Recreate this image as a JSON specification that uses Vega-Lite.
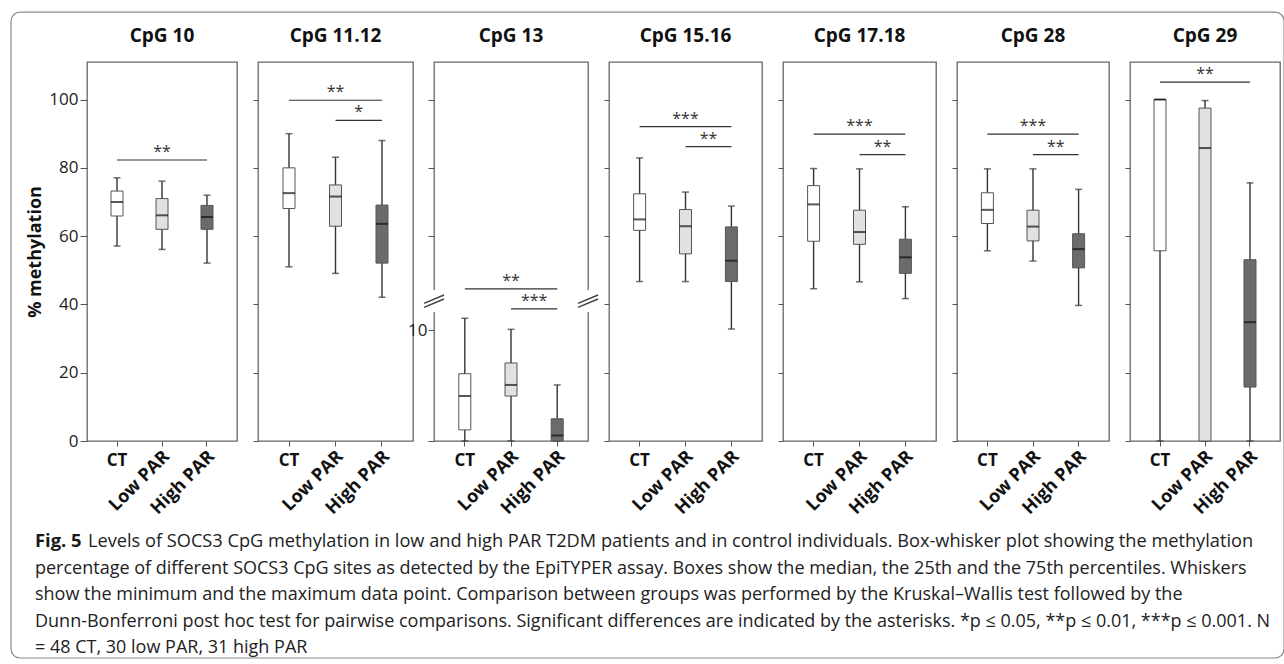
{
  "$schema": "https://vega.github.io/schema/vega-lite/v6.json",
  "padding": {"left": 10, "top": 11, "right": 0, "bottom": 0},
  "config": {
    "font": "Open Sans",
    "view": {"stroke": "#666666", "strokeWidth": 1.3},
    "axis": {"grid": false, "labelFont": "Open Sans", "titleFont": "Open Sans"},
    "title": {"font": "Open Sans", "fontSize": 19, "fontWeight": "bold", "color": "#111111", "offset": 16},
    "text": {"font": "Open Sans"}
  },
  "datasets": {
    "boxes": [
      {"panel": "CpG 10", "group": "CT", "min": 57.1, "q1": 65.9, "median": 70.0, "q3": 73.2, "max": 77.1},
      {"panel": "CpG 10", "group": "Low PAR", "min": 56.1, "q1": 62.0, "median": 66.1, "q3": 71.0, "max": 76.1},
      {"panel": "CpG 10", "group": "High PAR", "min": 52.1, "q1": 62.0, "median": 65.6, "q3": 69.0, "max": 72.0},
      {"panel": "CpG 11.12", "group": "CT", "min": 51.0, "q1": 68.1, "median": 72.6, "q3": 80.0, "max": 90.0},
      {"panel": "CpG 11.12", "group": "Low PAR", "min": 49.1, "q1": 62.9, "median": 71.6, "q3": 75.0, "max": 83.1},
      {"panel": "CpG 11.12", "group": "High PAR", "min": 42.1, "q1": 52.1, "median": 63.6, "q3": 69.1, "max": 88.0},
      {"panel": "CpG 13", "group": "CT", "min": 0, "q1": 1.0, "median": 4.05, "q3": 6.06, "max": 11.05},
      {"panel": "CpG 13", "group": "Low PAR", "min": 0, "q1": 4.05, "median": 5.05, "q3": 7.03, "max": 10.06},
      {"panel": "CpG 13", "group": "High PAR", "min": 0, "q1": 0, "median": 0.5, "q3": 2.0, "max": 5.05},
      {"panel": "CpG 15.16", "group": "CT", "min": 46.7, "q1": 61.7, "median": 64.9, "q3": 72.4, "max": 82.9},
      {"panel": "CpG 15.16", "group": "Low PAR", "min": 46.7, "q1": 54.8, "median": 62.9, "q3": 67.8, "max": 72.9},
      {"panel": "CpG 15.16", "group": "High PAR", "min": 32.8, "q1": 46.7, "median": 52.8, "q3": 62.7, "max": 68.8},
      {"panel": "CpG 17.18", "group": "CT", "min": 44.6, "q1": 58.5, "median": 69.3, "q3": 74.8, "max": 79.8},
      {"panel": "CpG 17.18", "group": "Low PAR", "min": 46.6, "q1": 57.6, "median": 61.2, "q3": 67.6, "max": 79.7},
      {"panel": "CpG 17.18", "group": "High PAR", "min": 41.7, "q1": 49.1, "median": 53.8, "q3": 59.1, "max": 68.6},
      {"panel": "CpG 28", "group": "CT", "min": 55.7, "q1": 63.7, "median": 67.7, "q3": 72.7, "max": 79.7},
      {"panel": "CpG 28", "group": "Low PAR", "min": 52.7, "q1": 58.6, "median": 62.8, "q3": 67.6, "max": 79.7},
      {"panel": "CpG 28", "group": "High PAR", "min": 39.7, "q1": 50.7, "median": 56.2, "q3": 60.7, "max": 73.7},
      {"panel": "CpG 29", "group": "CT", "min": 0, "q1": 55.7, "median": 100, "q3": 100, "max": 100},
      {"panel": "CpG 29", "group": "Low PAR", "min": 0, "q1": 0, "median": 85.8, "q3": 97.5, "max": 99.7},
      {"panel": "CpG 29", "group": "High PAR", "min": 0, "q1": 15.8, "median": 34.8, "q3": 53.1, "max": 75.6}
    ],
    "sig": [
      {"panel": "CpG 10", "from": "CT", "to": "High PAR", "y": 82.3, "stars": "**"},
      {"panel": "CpG 11.12", "from": "CT", "to": "High PAR", "y": 99.8, "stars": "**"},
      {"panel": "CpG 11.12", "from": "Low PAR", "to": "High PAR", "y": 93.9, "stars": "*"},
      {"panel": "CpG 13", "from": "CT", "to": "High PAR", "y": 13.7, "stars": "**"},
      {"panel": "CpG 13", "from": "Low PAR", "to": "High PAR", "y": 11.9, "stars": "***"},
      {"panel": "CpG 15.16", "from": "CT", "to": "High PAR", "y": 92.1, "stars": "***"},
      {"panel": "CpG 15.16", "from": "Low PAR", "to": "High PAR", "y": 86.2, "stars": "**"},
      {"panel": "CpG 17.18", "from": "CT", "to": "High PAR", "y": 89.9, "stars": "***"},
      {"panel": "CpG 17.18", "from": "Low PAR", "to": "High PAR", "y": 83.9, "stars": "**"},
      {"panel": "CpG 28", "from": "CT", "to": "High PAR", "y": 89.9, "stars": "***"},
      {"panel": "CpG 28", "from": "Low PAR", "to": "High PAR", "y": 83.9, "stars": "**"},
      {"panel": "CpG 29", "from": "CT", "to": "High PAR", "y": 105.1, "stars": "**"}
    ],
    "edges": [{"edge": "left"}, {"edge": "right"}],
    "caption": [
      {"line": 1, "part": "label", "text": "Fig. 5"},
      {"line": 1, "part": "lead", "text": "Levels of SOCS3 CpG methylation in low and high PAR T2DM patients and in control individuals. Box-whisker plot showing the methylation"},
      {"line": 2, "part": "body", "text": "percentage of different SOCS3 CpG sites as detected by the EpiTYPER assay. Boxes show the median, the 25th and the 75th percentiles. Whiskers"},
      {"line": 3, "part": "body", "text": "show the minimum and the maximum data point. Comparison between groups was performed by the Kruskal–Wallis test followed by the"},
      {"line": 4, "part": "body", "text": "Dunn-Bonferroni post hoc test for pairwise comparisons. Significant differences are indicated by the asterisks. *p ≤ 0.05, **p ≤ 0.01, ***p ≤ 0.001. N"},
      {"line": 5, "part": "body", "text": "= 48 CT, 30 low PAR, 31 high PAR"}
    ]
  },
  "spacing": 461,
  "bounds": "flush",
  "vconcat": [
    {
      "spacing": 21,
      "bounds": "flush",
      "hconcat": [
        {
          "width": 150, "height": 379,
          "title": {"text": "CpG 10"},
          "layer": [
            {
              "data": {"name": "boxes"},
              "transform": [{"filter": "datum.panel === 'CpG 10'"}],
              "encoding": {
                "x": {"field": "group", "type": "nominal", "scale": {"domain": ["CT", "Low PAR", "High PAR"], "paddingInner": 0, "paddingOuter": 0.1667},
                  "axis": {"title": null, "domain": false, "labels": false, "tickSize": 5, "tickColor": "#555555"}},
                "y": {"field": "min", "type": "quantitative", "scale": {"domain": [0, 111], "nice": false, "zero": false},
                  "axis": {"title": "% methylation", "titleFontSize": 18, "titleFontWeight": "bold", "titleColor": "#111111", "titlePadding": 4, "domain": false, "tickSize": 7, "tickColor": "#555555", "values": [0, 20, 40, 60, 80, 100], "labelFontSize": 17, "labelColor": "#222222", "labelPadding": 2}}
              },
              "layer": [
                {"mark": {"type": "rule", "color": "#333333", "strokeWidth": 1.4}, "encoding": {"y2": {"field": "max"}}},
                {"mark": {"type": "tick", "size": 7, "thickness": 1.5, "color": "#333333"}},
                {"mark": {"type": "tick", "size": 7, "thickness": 1.5, "color": "#333333"}, "encoding": {"y": {"field": "max", "type": "quantitative"}}},
                {"mark": {"type": "bar", "width": 12, "stroke": "#555555", "strokeWidth": 1, "opacity": 1}, "encoding": {"y": {"field": "q1", "type": "quantitative"}, "y2": {"field": "q3"}, "color": {"field": "group", "type": "nominal", "scale": {"domain": ["CT", "Low PAR", "High PAR"], "range": ["#ffffff", "#e1e1e1", "#6b6b6b"]}, "legend": null}}},
                {"mark": {"type": "tick", "size": 12, "thickness": 2, "color": "#111111"}, "encoding": {"y": {"field": "median", "type": "quantitative"}}},
                {"transform": [{"filter": "datum.group === 'CT'"}], "mark": {"type": "text", "fontWeight": "bold", "fontSize": 17, "color": "#111111", "baseline": "top", "dy": 12}, "encoding": {"y": {"datum": 0}, "text": {"field": "group"}}},
                {"transform": [{"filter": "datum.group !== 'CT'"}], "mark": {"type": "text", "fontWeight": "bold", "fontSize": 18, "color": "#111111", "angle": 315, "align": "right", "baseline": "middle", "dx": -5.7, "dy": 12.7}, "encoding": {"y": {"datum": 0}, "text": {"field": "group"}}}
              ]
            },
            {
              "data": {"name": "sig"},
              "transform": [{"filter": "datum.panel === 'CpG 10'"}],
              "encoding": {"y": {"field": "y", "type": "quantitative"}},
              "layer": [
                {"mark": {"type": "rule", "color": "#333333", "strokeWidth": 1.2}, "encoding": {"x": {"field": "from", "type": "nominal"}, "x2": {"field": "to"}}},
                {"transform": [{"filter": "datum.from === 'CT'"}], "mark": {"type": "text", "fontSize": 16, "color": "#333333", "baseline": "alphabetic", "dy": -3}, "encoding": {"x": {"datum": "Low PAR", "type": "nominal"}, "text": {"field": "stars"}}},
                {"transform": [{"filter": "datum.from === 'Low PAR'"}], "mark": {"type": "text", "fontSize": 16, "color": "#333333", "baseline": "alphabetic", "dy": -3}, "encoding": {"x": {"datum": "High PAR", "type": "nominal", "bandPosition": 0}, "text": {"field": "stars"}}}
              ]
            }
          ]
        },
        {
          "width": 155, "height": 379,
          "title": {"text": "CpG 11.12"},
          "layer": [
            {
              "data": {"name": "boxes"},
              "transform": [{"filter": "datum.panel === 'CpG 11.12'"}],
              "encoding": {
                "x": {"field": "group", "type": "nominal", "scale": {"domain": ["CT", "Low PAR", "High PAR"], "paddingInner": 0, "paddingOuter": 0.1667},
                  "axis": {"title": null, "domain": false, "labels": false, "tickSize": 5, "tickColor": "#555555"}},
                "y": {"field": "min", "type": "quantitative", "scale": {"domain": [0, 111], "nice": false, "zero": false},
                  "axis": {"title": null, "labels": false, "domain": false, "tickSize": 5, "tickColor": "#555555", "values": [0, 20, 40, 60, 80, 100]}}
              },
              "layer": [
                {"mark": {"type": "rule", "color": "#333333", "strokeWidth": 1.4}, "encoding": {"y2": {"field": "max"}}},
                {"mark": {"type": "tick", "size": 7, "thickness": 1.5, "color": "#333333"}},
                {"mark": {"type": "tick", "size": 7, "thickness": 1.5, "color": "#333333"}, "encoding": {"y": {"field": "max", "type": "quantitative"}}},
                {"mark": {"type": "bar", "width": 12, "stroke": "#555555", "strokeWidth": 1, "opacity": 1}, "encoding": {"y": {"field": "q1", "type": "quantitative"}, "y2": {"field": "q3"}, "color": {"field": "group", "type": "nominal", "scale": {"domain": ["CT", "Low PAR", "High PAR"], "range": ["#ffffff", "#e1e1e1", "#6b6b6b"]}, "legend": null}}},
                {"mark": {"type": "tick", "size": 12, "thickness": 2, "color": "#111111"}, "encoding": {"y": {"field": "median", "type": "quantitative"}}},
                {"transform": [{"filter": "datum.group === 'CT'"}], "mark": {"type": "text", "fontWeight": "bold", "fontSize": 17, "color": "#111111", "baseline": "top", "dy": 12}, "encoding": {"y": {"datum": 0}, "text": {"field": "group"}}},
                {"transform": [{"filter": "datum.group !== 'CT'"}], "mark": {"type": "text", "fontWeight": "bold", "fontSize": 18, "color": "#111111", "angle": 315, "align": "right", "baseline": "middle", "dx": -5.7, "dy": 12.7}, "encoding": {"y": {"datum": 0}, "text": {"field": "group"}}}
              ]
            },
            {
              "data": {"name": "sig"},
              "transform": [{"filter": "datum.panel === 'CpG 11.12'"}],
              "encoding": {"y": {"field": "y", "type": "quantitative"}},
              "layer": [
                {"mark": {"type": "rule", "color": "#333333", "strokeWidth": 1.2}, "encoding": {"x": {"field": "from", "type": "nominal"}, "x2": {"field": "to"}}},
                {"transform": [{"filter": "datum.from === 'CT'"}], "mark": {"type": "text", "fontSize": 16, "color": "#333333", "baseline": "alphabetic", "dy": -3}, "encoding": {"x": {"datum": "Low PAR", "type": "nominal"}, "text": {"field": "stars"}}},
                {"transform": [{"filter": "datum.from === 'Low PAR'"}], "mark": {"type": "text", "fontSize": 16, "color": "#333333", "baseline": "alphabetic", "dy": -3}, "encoding": {"x": {"datum": "High PAR", "type": "nominal", "bandPosition": 0}, "text": {"field": "stars"}}}
              ]
            }
          ]
        },
        {
          "width": 154, "height": 379,
          "title": {"text": "CpG 13"},
          "resolve": {"scale": {"x": "independent"}, "axis": {"x": "independent"}},
          "layer": [
            {
              "layer": [
                {
                  "data": {"name": "boxes"},
                  "transform": [{"filter": "datum.panel === 'CpG 13'"}],
                  "encoding": {
                    "x": {"field": "group", "type": "nominal", "scale": {"domain": ["CT", "Low PAR", "High PAR"], "paddingInner": 0, "paddingOuter": 0.1667},
                      "axis": {"title": null, "domain": false, "labels": false, "tickSize": 5, "tickColor": "#555555"}},
                    "y": {"field": "min", "type": "quantitative", "scale": {"domain": [0, 15, 60, 111], "range": [379, 212.5, 174, 0], "nice": false, "zero": false},
                      "axis": {"title": null, "domain": false, "tickSize": 6, "tickColor": "#555555", "values": [0, 10, 60, 80, 100], "labelExpr": "datum.value === 10 ? '10' : ''", "labelFontSize": 17, "labelColor": "#222222", "labelPadding": 1}}
                  },
                  "layer": [
                    {"mark": {"type": "rule", "color": "#333333", "strokeWidth": 1.4}, "encoding": {"y2": {"field": "max"}}},
                    {"mark": {"type": "tick", "size": 7, "thickness": 1.5, "color": "#333333"}},
                    {"mark": {"type": "tick", "size": 7, "thickness": 1.5, "color": "#333333"}, "encoding": {"y": {"field": "max", "type": "quantitative"}}},
                    {"mark": {"type": "bar", "width": 12, "stroke": "#555555", "strokeWidth": 1, "opacity": 1}, "encoding": {"y": {"field": "q1", "type": "quantitative"}, "y2": {"field": "q3"}, "color": {"field": "group", "type": "nominal", "scale": {"domain": ["CT", "Low PAR", "High PAR"], "range": ["#ffffff", "#e1e1e1", "#6b6b6b"]}, "legend": null}}},
                    {"mark": {"type": "tick", "size": 12, "thickness": 2, "color": "#111111"}, "encoding": {"y": {"field": "median", "type": "quantitative"}}},
                    {"transform": [{"filter": "datum.group === 'CT'"}], "mark": {"type": "text", "fontWeight": "bold", "fontSize": 17, "color": "#111111", "baseline": "top", "dy": 12}, "encoding": {"y": {"datum": 0}, "text": {"field": "group"}}},
                    {"transform": [{"filter": "datum.group !== 'CT'"}], "mark": {"type": "text", "fontWeight": "bold", "fontSize": 18, "color": "#111111", "angle": 315, "align": "right", "baseline": "middle", "dx": -5.7, "dy": 12.7}, "encoding": {"y": {"datum": 0}, "text": {"field": "group"}}}
                  ]
                },
                {
                  "data": {"name": "sig"},
                  "transform": [{"filter": "datum.panel === 'CpG 13'"}],
                  "encoding": {"y": {"field": "y", "type": "quantitative"}},
                  "layer": [
                    {"mark": {"type": "rule", "color": "#333333", "strokeWidth": 1.2}, "encoding": {"x": {"field": "from", "type": "nominal"}, "x2": {"field": "to"}}},
                    {"transform": [{"filter": "datum.from === 'CT'"}], "mark": {"type": "text", "fontSize": 16, "color": "#333333", "baseline": "alphabetic", "dy": -3}, "encoding": {"x": {"datum": "Low PAR", "type": "nominal"}, "text": {"field": "stars"}}},
                    {"transform": [{"filter": "datum.from === 'Low PAR'"}], "mark": {"type": "text", "fontSize": 16, "color": "#333333", "baseline": "alphabetic", "dy": -3}, "encoding": {"x": {"datum": "High PAR", "type": "nominal", "bandPosition": 0}, "text": {"field": "stars"}}}
                  ]
                }
              ]
            },
            {
              "data": {"name": "edges"},
              "encoding": {
                "x": {"field": "edge", "type": "ordinal", "scale": {"type": "point", "domain": ["left", "right"], "padding": 0}, "axis": null},
                "y": {"datum": 12.6, "type": "quantitative"}
              },
              "layer": [
                {"mark": {"type": "point", "shape": "M-0.35,-1L0.35,-1L0.35,1L-0.35,1Z", "size": 484, "filled": true, "color": "#ffffff", "opacity": 1, "strokeWidth": 0}},
                {"mark": {"type": "point", "shape": "M-1,0.22L1,-0.62M-1,0.62L1,-0.22", "size": 400, "filled": false, "color": "#444444", "strokeWidth": 1.5, "opacity": 1}}
              ]
            }
          ]
        },
        {
          "width": 153, "height": 379,
          "title": {"text": "CpG 15.16"},
          "layer": [
            {
              "data": {"name": "boxes"},
              "transform": [{"filter": "datum.panel === 'CpG 15.16'"}],
              "encoding": {
                "x": {"field": "group", "type": "nominal", "scale": {"domain": ["CT", "Low PAR", "High PAR"], "paddingInner": 0, "paddingOuter": 0.1667},
                  "axis": {"title": null, "domain": false, "labels": false, "tickSize": 5, "tickColor": "#555555"}},
                "y": {"field": "min", "type": "quantitative", "scale": {"domain": [0, 111], "nice": false, "zero": false},
                  "axis": {"title": null, "labels": false, "domain": false, "tickSize": 5, "tickColor": "#555555", "values": [0, 20, 40, 60, 80, 100]}}
              },
              "layer": [
                {"mark": {"type": "rule", "color": "#333333", "strokeWidth": 1.4}, "encoding": {"y2": {"field": "max"}}},
                {"mark": {"type": "tick", "size": 7, "thickness": 1.5, "color": "#333333"}},
                {"mark": {"type": "tick", "size": 7, "thickness": 1.5, "color": "#333333"}, "encoding": {"y": {"field": "max", "type": "quantitative"}}},
                {"mark": {"type": "bar", "width": 12, "stroke": "#555555", "strokeWidth": 1, "opacity": 1}, "encoding": {"y": {"field": "q1", "type": "quantitative"}, "y2": {"field": "q3"}, "color": {"field": "group", "type": "nominal", "scale": {"domain": ["CT", "Low PAR", "High PAR"], "range": ["#ffffff", "#e1e1e1", "#6b6b6b"]}, "legend": null}}},
                {"mark": {"type": "tick", "size": 12, "thickness": 2, "color": "#111111"}, "encoding": {"y": {"field": "median", "type": "quantitative"}}},
                {"transform": [{"filter": "datum.group === 'CT'"}], "mark": {"type": "text", "fontWeight": "bold", "fontSize": 17, "color": "#111111", "baseline": "top", "dy": 12}, "encoding": {"y": {"datum": 0}, "text": {"field": "group"}}},
                {"transform": [{"filter": "datum.group !== 'CT'"}], "mark": {"type": "text", "fontWeight": "bold", "fontSize": 18, "color": "#111111", "angle": 315, "align": "right", "baseline": "middle", "dx": -5.7, "dy": 12.7}, "encoding": {"y": {"datum": 0}, "text": {"field": "group"}}}
              ]
            },
            {
              "data": {"name": "sig"},
              "transform": [{"filter": "datum.panel === 'CpG 15.16'"}],
              "encoding": {"y": {"field": "y", "type": "quantitative"}},
              "layer": [
                {"mark": {"type": "rule", "color": "#333333", "strokeWidth": 1.2}, "encoding": {"x": {"field": "from", "type": "nominal"}, "x2": {"field": "to"}}},
                {"transform": [{"filter": "datum.from === 'CT'"}], "mark": {"type": "text", "fontSize": 16, "color": "#333333", "baseline": "alphabetic", "dy": -3}, "encoding": {"x": {"datum": "Low PAR", "type": "nominal"}, "text": {"field": "stars"}}},
                {"transform": [{"filter": "datum.from === 'Low PAR'"}], "mark": {"type": "text", "fontSize": 16, "color": "#333333", "baseline": "alphabetic", "dy": -3}, "encoding": {"x": {"datum": "High PAR", "type": "nominal", "bandPosition": 0}, "text": {"field": "stars"}}}
              ]
            }
          ]
        },
        {
          "width": 153, "height": 379,
          "title": {"text": "CpG 17.18"},
          "layer": [
            {
              "data": {"name": "boxes"},
              "transform": [{"filter": "datum.panel === 'CpG 17.18'"}],
              "encoding": {
                "x": {"field": "group", "type": "nominal", "scale": {"domain": ["CT", "Low PAR", "High PAR"], "paddingInner": 0, "paddingOuter": 0.1667},
                  "axis": {"title": null, "domain": false, "labels": false, "tickSize": 5, "tickColor": "#555555"}},
                "y": {"field": "min", "type": "quantitative", "scale": {"domain": [0, 111], "nice": false, "zero": false},
                  "axis": {"title": null, "labels": false, "domain": false, "tickSize": 5, "tickColor": "#555555", "values": [0, 20, 40, 60, 80, 100]}}
              },
              "layer": [
                {"mark": {"type": "rule", "color": "#333333", "strokeWidth": 1.4}, "encoding": {"y2": {"field": "max"}}},
                {"mark": {"type": "tick", "size": 7, "thickness": 1.5, "color": "#333333"}},
                {"mark": {"type": "tick", "size": 7, "thickness": 1.5, "color": "#333333"}, "encoding": {"y": {"field": "max", "type": "quantitative"}}},
                {"mark": {"type": "bar", "width": 12, "stroke": "#555555", "strokeWidth": 1, "opacity": 1}, "encoding": {"y": {"field": "q1", "type": "quantitative"}, "y2": {"field": "q3"}, "color": {"field": "group", "type": "nominal", "scale": {"domain": ["CT", "Low PAR", "High PAR"], "range": ["#ffffff", "#e1e1e1", "#6b6b6b"]}, "legend": null}}},
                {"mark": {"type": "tick", "size": 12, "thickness": 2, "color": "#111111"}, "encoding": {"y": {"field": "median", "type": "quantitative"}}},
                {"transform": [{"filter": "datum.group === 'CT'"}], "mark": {"type": "text", "fontWeight": "bold", "fontSize": 17, "color": "#111111", "baseline": "top", "dy": 12}, "encoding": {"y": {"datum": 0}, "text": {"field": "group"}}},
                {"transform": [{"filter": "datum.group !== 'CT'"}], "mark": {"type": "text", "fontWeight": "bold", "fontSize": 18, "color": "#111111", "angle": 315, "align": "right", "baseline": "middle", "dx": -5.7, "dy": 12.7}, "encoding": {"y": {"datum": 0}, "text": {"field": "group"}}}
              ]
            },
            {
              "data": {"name": "sig"},
              "transform": [{"filter": "datum.panel === 'CpG 17.18'"}],
              "encoding": {"y": {"field": "y", "type": "quantitative"}},
              "layer": [
                {"mark": {"type": "rule", "color": "#333333", "strokeWidth": 1.2}, "encoding": {"x": {"field": "from", "type": "nominal"}, "x2": {"field": "to"}}},
                {"transform": [{"filter": "datum.from === 'CT'"}], "mark": {"type": "text", "fontSize": 16, "color": "#333333", "baseline": "alphabetic", "dy": -3}, "encoding": {"x": {"datum": "Low PAR", "type": "nominal"}, "text": {"field": "stars"}}},
                {"transform": [{"filter": "datum.from === 'Low PAR'"}], "mark": {"type": "text", "fontSize": 16, "color": "#333333", "baseline": "alphabetic", "dy": -3}, "encoding": {"x": {"datum": "High PAR", "type": "nominal", "bandPosition": 0}, "text": {"field": "stars"}}}
              ]
            }
          ]
        },
        {
          "width": 152, "height": 379,
          "title": {"text": "CpG 28"},
          "layer": [
            {
              "data": {"name": "boxes"},
              "transform": [{"filter": "datum.panel === 'CpG 28'"}],
              "encoding": {
                "x": {"field": "group", "type": "nominal", "scale": {"domain": ["CT", "Low PAR", "High PAR"], "paddingInner": 0, "paddingOuter": 0.1667},
                  "axis": {"title": null, "domain": false, "labels": false, "tickSize": 5, "tickColor": "#555555"}},
                "y": {"field": "min", "type": "quantitative", "scale": {"domain": [0, 111], "nice": false, "zero": false},
                  "axis": {"title": null, "labels": false, "domain": false, "tickSize": 5, "tickColor": "#555555", "values": [0, 20, 40, 60, 80, 100]}}
              },
              "layer": [
                {"mark": {"type": "rule", "color": "#333333", "strokeWidth": 1.4}, "encoding": {"y2": {"field": "max"}}},
                {"mark": {"type": "tick", "size": 7, "thickness": 1.5, "color": "#333333"}},
                {"mark": {"type": "tick", "size": 7, "thickness": 1.5, "color": "#333333"}, "encoding": {"y": {"field": "max", "type": "quantitative"}}},
                {"mark": {"type": "bar", "width": 12, "stroke": "#555555", "strokeWidth": 1, "opacity": 1}, "encoding": {"y": {"field": "q1", "type": "quantitative"}, "y2": {"field": "q3"}, "color": {"field": "group", "type": "nominal", "scale": {"domain": ["CT", "Low PAR", "High PAR"], "range": ["#ffffff", "#e1e1e1", "#6b6b6b"]}, "legend": null}}},
                {"mark": {"type": "tick", "size": 12, "thickness": 2, "color": "#111111"}, "encoding": {"y": {"field": "median", "type": "quantitative"}}},
                {"transform": [{"filter": "datum.group === 'CT'"}], "mark": {"type": "text", "fontWeight": "bold", "fontSize": 17, "color": "#111111", "baseline": "top", "dy": 12}, "encoding": {"y": {"datum": 0}, "text": {"field": "group"}}},
                {"transform": [{"filter": "datum.group !== 'CT'"}], "mark": {"type": "text", "fontWeight": "bold", "fontSize": 18, "color": "#111111", "angle": 315, "align": "right", "baseline": "middle", "dx": -5.7, "dy": 12.7}, "encoding": {"y": {"datum": 0}, "text": {"field": "group"}}}
              ]
            },
            {
              "data": {"name": "sig"},
              "transform": [{"filter": "datum.panel === 'CpG 28'"}],
              "encoding": {"y": {"field": "y", "type": "quantitative"}},
              "layer": [
                {"mark": {"type": "rule", "color": "#333333", "strokeWidth": 1.2}, "encoding": {"x": {"field": "from", "type": "nominal"}, "x2": {"field": "to"}}},
                {"transform": [{"filter": "datum.from === 'CT'"}], "mark": {"type": "text", "fontSize": 16, "color": "#333333", "baseline": "alphabetic", "dy": -3}, "encoding": {"x": {"datum": "Low PAR", "type": "nominal"}, "text": {"field": "stars"}}},
                {"transform": [{"filter": "datum.from === 'Low PAR'"}], "mark": {"type": "text", "fontSize": 16, "color": "#333333", "baseline": "alphabetic", "dy": -3}, "encoding": {"x": {"datum": "High PAR", "type": "nominal", "bandPosition": 0}, "text": {"field": "stars"}}}
              ]
            }
          ]
        },
        {
          "width": 150, "height": 379,
          "title": {"text": "CpG 29"},
          "layer": [
            {
              "data": {"name": "boxes"},
              "transform": [{"filter": "datum.panel === 'CpG 29'"}],
              "encoding": {
                "x": {"field": "group", "type": "nominal", "scale": {"domain": ["CT", "Low PAR", "High PAR"], "paddingInner": 0, "paddingOuter": 0.1667},
                  "axis": {"title": null, "domain": false, "labels": false, "tickSize": 5, "tickColor": "#555555"}},
                "y": {"field": "min", "type": "quantitative", "scale": {"domain": [0, 111], "nice": false, "zero": false},
                  "axis": {"title": null, "labels": false, "domain": false, "tickSize": 5, "tickColor": "#555555", "values": [0, 20, 40, 60, 80, 100]}}
              },
              "layer": [
                {"mark": {"type": "rule", "color": "#333333", "strokeWidth": 1.4}, "encoding": {"y2": {"field": "max"}}},
                {"mark": {"type": "tick", "size": 7, "thickness": 1.5, "color": "#333333"}},
                {"mark": {"type": "tick", "size": 7, "thickness": 1.5, "color": "#333333"}, "encoding": {"y": {"field": "max", "type": "quantitative"}}},
                {"mark": {"type": "bar", "width": 12, "stroke": "#555555", "strokeWidth": 1, "opacity": 1}, "encoding": {"y": {"field": "q1", "type": "quantitative"}, "y2": {"field": "q3"}, "color": {"field": "group", "type": "nominal", "scale": {"domain": ["CT", "Low PAR", "High PAR"], "range": ["#ffffff", "#e1e1e1", "#6b6b6b"]}, "legend": null}}},
                {"mark": {"type": "tick", "size": 12, "thickness": 2, "color": "#111111"}, "encoding": {"y": {"field": "median", "type": "quantitative"}}},
                {"transform": [{"filter": "datum.group === 'CT'"}], "mark": {"type": "text", "fontWeight": "bold", "fontSize": 17, "color": "#111111", "baseline": "top", "dy": 12}, "encoding": {"y": {"datum": 0}, "text": {"field": "group"}}},
                {"transform": [{"filter": "datum.group !== 'CT'"}], "mark": {"type": "text", "fontWeight": "bold", "fontSize": 18, "color": "#111111", "angle": 315, "align": "right", "baseline": "middle", "dx": -5.7, "dy": 12.7}, "encoding": {"y": {"datum": 0}, "text": {"field": "group"}}}
              ]
            },
            {
              "data": {"name": "sig"},
              "transform": [{"filter": "datum.panel === 'CpG 29'"}],
              "encoding": {"y": {"field": "y", "type": "quantitative"}},
              "layer": [
                {"mark": {"type": "rule", "color": "#333333", "strokeWidth": 1.2}, "encoding": {"x": {"field": "from", "type": "nominal"}, "x2": {"field": "to"}}},
                {"transform": [{"filter": "datum.from === 'CT'"}], "mark": {"type": "text", "fontSize": 16, "color": "#333333", "baseline": "alphabetic", "dy": -3}, "encoding": {"x": {"datum": "Low PAR", "type": "nominal"}, "text": {"field": "stars"}}},
                {"transform": [{"filter": "datum.from === 'Low PAR'"}], "mark": {"type": "text", "fontSize": 16, "color": "#333333", "baseline": "alphabetic", "dy": -3}, "encoding": {"x": {"datum": "High PAR", "type": "nominal", "bandPosition": 0}, "text": {"field": "stars"}}}
              ]
            }
          ]
        }
      ]
    },
    {
      "width": 1193, "height": 135,
      "view": {"stroke": null, "fill": null},
      "encoding": {
        "x": {"datum": 0, "type": "quantitative", "scale": {"domain": [0, 1], "nice": false, "zero": false}, "axis": null},
        "y": {"field": "line", "type": "quantitative", "scale": {"domain": [0.0977, 5.173], "reverse": true, "nice": false, "zero": false}, "axis": null}
      },
      "layer": [
        {
          "data": {"values": [{"line": -19.11, "line_end": 5.173}]},
          "mark": {"type": "rect", "fill": null, "stroke": "#8a8a8a", "strokeWidth": 1.2, "cornerRadius": 9},
          "encoding": {
            "x": {"datum": -0.0637, "type": "quantitative"},
            "x2": {"datum": 1.0034},
            "y2": {"field": "line_end"}
          }
        },
        {
          "data": {"name": "caption"},
          "encoding": {"text": {"field": "text"}},
          "layer": [
            {"transform": [{"filter": "datum.part === 'label'"}], "mark": {"type": "text", "align": "left", "baseline": "alphabetic", "fontSize": 18.4, "fontWeight": "bold", "color": "#1a1a1a", "dx": -52}},
            {"transform": [{"filter": "datum.part === 'lead'"}], "mark": {"type": "text", "align": "left", "baseline": "alphabetic", "fontSize": 18.2, "color": "#222222", "dx": 1}},
            {"transform": [{"filter": "datum.part === 'body'"}], "mark": {"type": "text", "align": "left", "baseline": "alphabetic", "fontSize": 18.0, "color": "#222222", "dx": -52}}
          ]
        }
      ]
    }
  ]
}
